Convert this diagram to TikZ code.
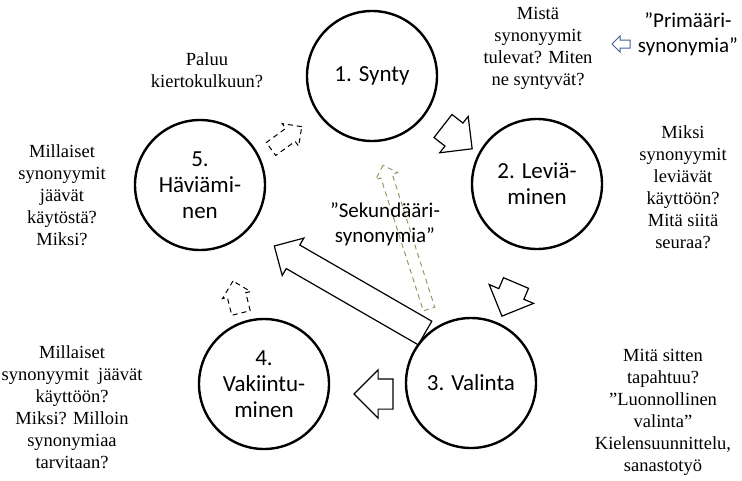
\documentclass[tikz,border=0pt]{standalone}
\usepackage{fontspec}
\setmainfont{Liberation Serif}
\newfontfamily\calibri{Carlito}
\usepackage{tikz}
\usetikzlibrary{
    arrows.meta,
    positioning,
    shapes.arrows
}
\definecolor{sekcol}{RGB}{158,150,100}
\definecolor{primcol}{RGB}{65,95,145}

\begin{document}
\begin{tikzpicture}[
    x=1pt, y=-1pt,
    stage/.style={
        circle,
        draw,
        line width=2.4pt,
        minimum size=130pt,
        align=center,
        font=\calibri\fontsize{23}{26}\selectfont
    },
    question/.style={
        align=center,
        font=\fontsize{18.5}{22}\selectfont
    },
    synname/.style={
        align=center,
        font=\calibri\fontsize{21}{25}\selectfont
    },
    blockarrow/.style={
        single arrow,
        draw,
        line width=1.2pt,
        anchor=tail,
        inner xsep=0pt,
        outer sep=0pt,
        minimum width=0pt,
        single arrow tip angle=90
    },
    arrowsize/.style n args={3}{
        minimum height=#1,
        single arrow head extend=#2,
        inner ysep=#3
    },
    dashedarrow/.style={
        blockarrow,
        line width=1pt,
        dash pattern=on 5pt off 4pt
    }
]

\useasboundingbox (0,0) rectangle (742,480);

% the five stages
\node[stage] (synty) at (372,76) {1. Synty};
\node[stage] (levia) at (537,184) {2. Leviä-\\minen};
\node[stage] (valinta) at (471,383) {3. Valinta};
\node[stage] (vakiintu) at (264,384) {4.\\Vakiintu-\\minen};
\node[stage] (havia) at (200,185) {5.\\Häviämi-\\nen};

% block arrows between the stages
\node[blockarrow, arrowsize={37pt}{8.5pt}{14pt}, rotate=-38] (a12) at (443,126) {};
\node[blockarrow, arrowsize={36pt}{10.5pt}{13pt}, rotate=-113] (a23) at (516,283) {};
\node[blockarrow, arrowsize={39pt}{9pt}{14.5pt}, rotate=180] (a34) at (393,394) {};
\node[dashedarrow, arrowsize={33pt}{5pt}{9pt}, rotate=104] (a45) at (241,313) {};
\node[dashedarrow, arrowsize={38pt}{6pt}{7.5pt}, rotate=36] (a51) at (271,149) {};

% from selection back to disappearing
\node[blockarrow, arrowsize={174pt}{8pt}{13pt}, rotate=150] (a35) at (425,333) {};
\node[dashedarrow, draw=sekcol, arrowsize={151pt}{5.5pt}{5.5pt}, rotate=107.7] (asek) at (429,309) {};

% questions
\node[question] (paluu) at (207,70) {Paluu\\kiertokulkuun?};
\node[question] (mista) at (538,48) {Mistä\\synonyymit\\tulevat? Miten\\ne syntyvät?};
\node[question] (miksi) at (683,187) {Miksi\\synonyymit\\leviävät\\käyttöön?\\Mitä siitä\\seuraa?};
\node[question] (millaiset) at (62,195) {Millaiset\\synonyymit\\jäävät\\käytöstä?\\Miksi?};
\node[question] (milloin) at (72,407) {Millaiset\\synonyymit\ \ jäävät\\käyttöön?\\Miksi? Milloin\\synonymiaa\\tarvitaan?};
\node[question] (mitasitten) at (663,412) {Mitä sitten\\tapahtuu?\\”Luonnollinen\\valinta”\\Kielensuunnittelu,\\sanastotyö};

% kinds of synonymy
\node[synname] (primaari) at (688,34) {”Primääri-\\synonymia”};
\node[blockarrow, draw=primcol, line width=1pt, arrowsize={18pt}{4pt}{3.5pt}, rotate=180] (aprim) at (630,44) {};
\node[synname] (sekundaari) at (385,224) {”Sekundääri-\\synonymia”};

\end{tikzpicture}
\end{document}
